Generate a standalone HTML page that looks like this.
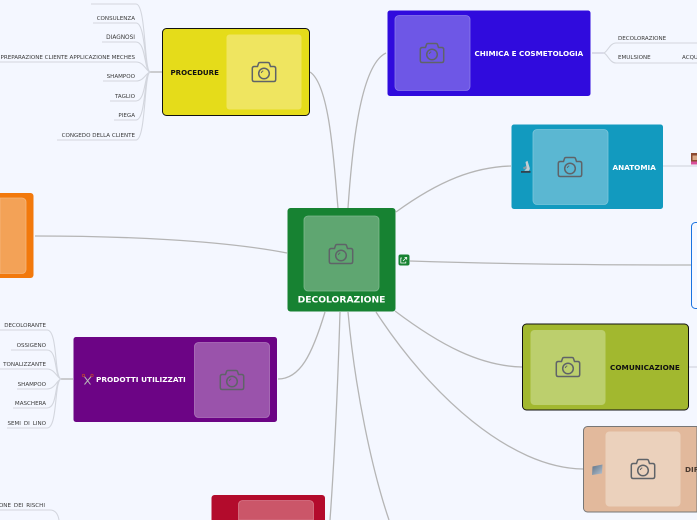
<!DOCTYPE html>
<html><head><meta charset="utf-8"><style>
html,body{margin:0;padding:0;width:697px;height:520px;overflow:hidden;background:#f4f7ff}
svg{display:block;overflow:hidden}
text{font-family:"DejaVu Sans",sans-serif}
.t{font-size:5.56px;fill:#3a3a3a;text-anchor:end}
.b{font-weight:bold}
.c{fill:none;stroke:#b5b5b5;stroke-width:1.3}
.l{fill:none;stroke:#d3d6de;stroke-width:1.1}
</style></head><body>
<svg width="697" height="520" viewBox="0 0 697 520" xmlns="http://www.w3.org/2000/svg">
<defs>
<g id="cam" fill="none" stroke="#5f6368" stroke-width="1.5">
<path d="M-9.700 -5.500H-6.500L-5.500 -8.500Q-5.200 -9.500 -4 -9.500H4Q5.200 -9.500 5.500 -8.500L6.500 -5.500H9.700Q11.700 -5.500 11.700 -3.500V7.500Q11.700 9.500 9.700 9.500H-9.700Q-11.700 9.500 -11.700 7.500V-3.500Q-11.700 -5.500 -9.700 -5.500Z"/>
<circle cx="0" cy="1.500" r="5.300"/>
<path d="M-2.700 1a3 3 0 0 1 2-2.200" stroke-width="1"/>
</g>
<linearGradient id="fold" x1="0" y1="0" x2="1" y2="1"><stop offset="0" stop-color="#5d7186"/><stop offset="1" stop-color="#b4c2d0"/></linearGradient>
</defs>

<!-- main connectors -->
<path class="c" d="M348 208C352 150 360 65 386 53"/>
<path class="c" d="M338 208C334 165 330 85 310 72"/>
<path class="c" d="M396 212C440 180 475 167 511 166"/>
<path class="c" d="M35 236C120 236 220 240 287 253"/>
<path class="c" d="M410 261C500 264 600 265 691 265"/>
<path class="c" d="M395 311C440 345 480 366 522 367"/>
<path class="c" d="M376 312C430 395 510 468 583 469"/>
<path class="c" d="M325 312C312 355 300 379 278 379"/>
<path class="c" d="M340 312C338 380 335 450 330 520"/>
<path class="c" d="M348 312C355 390 372 470 389 520"/>
<path class="c" d="M663 166H697" style="stroke:#d5d8e0"/>
<path class="c" d="M689 367H697" style="stroke:#d5d8e0"/>

<!-- PROCEDURE leaves -->
<path class="c" d="M162 72H150"/>
<g class="l">
<path d="M91 4H136C146 4 144 70 150 72"/>
<path d="M93 23H136C146 23 144 70 150 72"/>
<path d="M102 42H136C146 42 144 70 150 72"/>
<path d="M0 62H136C144 62 146 71 150 72"/>
<path d="M103 81H136C144 81 146 73 150 72"/>
<path d="M110 101H136C146 101 144 74 150 72"/>
<path d="M114 120H136C146 120 144 74 150 72"/>
<path d="M57 140H136C146 140 144 74 150 72"/>
</g>
<g class="t">
<text x="135" y="20">CONSULENZA</text>
<text x="135" y="39" style="font-size:5.8px">DIAGNOSI</text>
<text x="135" y="59">PREPARAZIONE CLIENTE APPLICAZIONE MECHES</text>
<text x="135" y="78">SHAMPOO</text>
<text x="135" y="98">TAGLIO</text>
<text x="135" y="117">PIEGA</text>
<text x="135" y="137">CONGEDO DELLA CLIENTE</text>
</g>

<!-- PRODOTTI leaves -->
<path class="c" d="M73 379H61"/>
<g class="l">
<path d="M0 330H47C58 330 54 377 61 379"/>
<path d="M11 350H47C58 350 54 377 61 379"/>
<path d="M0 369H47C55 369 57 378 61 379"/>
<path d="M17 389H47C55 389 57 380 61 379"/>
<path d="M13 408H47C58 408 54 381 61 379"/>
<path d="M7 428H47C58 428 54 381 61 379"/>
</g>
<g class="t">
<text x="46" y="327">DECOLORANTE</text>
<text x="46" y="347">OSSIGENO</text>
<text x="46" y="366">TONALIZZANTE</text>
<text x="46" y="386">SHAMPOO</text>
<text x="46" y="405">MASCHERA</text>
<text x="46" y="425" style="word-spacing:1.200px">SEMI DI LINO</text>
</g>

<!-- bottom-left leaf -->
<text class="t" x="45" y="507" style="word-spacing:1.200px">ONE DEI RISCHI</text>
<path class="l" d="M0 510H50C55 510 58 514 59 520"/>

<!-- CHIMICA leaves -->
<path class="c" d="M592 53H604" style="stroke:#ccd"/>
<path class="l" d="M697 43H616C610 43 608 51 604 53C608 55 610 63 616 63H697"/>
<text x="618" y="40" font-size="5.560" fill="#3a3a3a">DECOLORAZIONE</text>
<text x="618" y="59" font-size="5.560" fill="#3a3a3a">EMULSIONE</text>
<text x="682" y="59" font-size="5.560" fill="#3a3a3a">ACQUA</text>

<!-- CENTER -->
<rect x="287.500" y="208" width="108" height="103.500" rx="3" fill="#178232"/>
<rect x="304" y="216" width="75" height="75" rx="4" fill="#5fa671" stroke="#7fb98e" stroke-width=".8"/>
<use href="#cam" x="341" y="254"/>
<text x="341.500" y="302.500" font-size="9.200" class="b" fill="#fff" text-anchor="middle">DECOLORAZIONE</text>
<rect x="398.500" y="254.500" width="11" height="11" rx="2" fill="#178232"/>
<path d="M402 258h-1.200v5h5v-1.500M403 261l3.500-3.500M404.500 257.500h2.200v2.200" fill="none" stroke="#fff" stroke-width=".8"/>

<!-- PROCEDURE -->
<rect x="162.500" y="28.500" width="147" height="87" rx="4" fill="#e5dc1a" stroke="#111" stroke-width="1"/>
<rect x="226.500" y="34.500" width="75" height="75" rx="3" fill="#efe560"/>
<use href="#cam" x="264" y="72"/>
<text x="170.500" y="75" font-size="7.050" class="b" fill="#111">PROCEDURE</text>

<!-- CHIMICA -->
<rect x="387.500" y="10.500" width="203" height="85.500" rx="2.500" fill="#300bdd"/>
<rect x="395" y="15.500" width="75" height="75" rx="4" fill="#6e57e6" stroke="#8c7bea" stroke-width=".8"/>
<use href="#cam" x="432" y="53"/>
<text x="474.500" y="56" font-size="7.200" class="b" fill="#fff">CHIMICA E COSMETOLOGIA</text>

<!-- ANATOMIA -->
<rect x="511.500" y="124.500" width="151.500" height="84.500" rx="2.500" fill="#129abf"/>
<rect x="533" y="129.500" width="75" height="75" rx="4" fill="#5bb7d2" stroke="#7cc6db" stroke-width=".8"/>
<use href="#cam" x="570" y="167"/>
<text x="612.500" y="170" font-size="7.250" class="b" fill="#fff">ANATOMIA</text>
<path d="M525.500 162l2-1.300 2.300 7.500a3 3 0 0 1-1 2.500h-4.500l2.400-2.500z" fill="#c6ced3"/>
<path d="M523 167.500l3-1.500 .8 2-3 1.500z" fill="#8c9aa3"/>
<rect x="521" y="171" width="9.500" height="1.800" fill="#33424c"/>

<!-- icon right of anatomia -->
<rect x="691" y="153" width="6" height="11.500" fill="#8c4a32"/>
<rect x="692.500" y="155.500" width="4.500" height="4.500" fill="#d9a988"/>
<rect x="691" y="161.500" width="6" height="3" fill="#d84f9a"/>

<!-- ORANGE -->
<path d="M0 193H30.500a3 3 0 0 1 3 3V275a3 3 0 0 1-3 3H0Z" fill="#f2790c"/>
<path d="M0 198H22a4 4 0 0 1 4 4V269.500a4 4 0 0 1-4 4H0Z" fill="#f3a257" stroke="#f4b67c" stroke-width=".8"/>

<!-- BLUE outlined -->
<path d="M697 222.500H695.500a4 4 0 0 0-4 4V304.500a4 4 0 0 0 4 4H697" fill="#f6f8ff" stroke="#1a73e0" stroke-width="1"/>

<!-- COMUNICAZIONE -->
<rect x="522.500" y="324" width="166" height="86" rx="4" fill="#a2b82f" stroke="#111" stroke-width="1"/>
<rect x="530.500" y="330" width="75" height="75" rx="4" fill="#bccf6d"/>
<use href="#cam" x="568" y="367"/>
<text x="610" y="370" font-size="7.300" class="b" fill="#111">COMUNICAZIONE</text>

<!-- DIR -->
<path d="M697 426.500H587.500a4 4 0 0 0-4 4V508a4 4 0 0 0 4 4H697Z" fill="#e2b99c" stroke="#777" stroke-width="1"/>
<rect x="605.500" y="431.500" width="75" height="75" rx="4" fill="#ebd1bc"/>
<use href="#cam" x="643" y="469"/>
<text x="685" y="472" font-size="7.250" class="b" fill="#4a3a30">DIR</text>
<path d="M592.500 466.500l10-2-.5 9-10 1.500z" fill="url(#fold)"/>

<!-- PRODOTTI -->
<rect x="73.500" y="337" width="203.500" height="85" rx="2.500" fill="#6c0485"/>
<rect x="194.500" y="342.500" width="75" height="75" rx="4" fill="#9a53ab" stroke="#ae78bb" stroke-width=".8"/>
<use href="#cam" x="232" y="380"/>
<text x="96" y="382" font-size="7.350" class="b" fill="#fff">PRODOTTI UTILIZZATI</text>
<path d="M84 376l6.500 8.500M91.500 376l-7 8.500" stroke="#b9b9b9" stroke-width="1" fill="none"/>
<circle cx="83.500" cy="375.500" r="1.200" fill="none" stroke="#b53a3a" stroke-width=".8"/>
<circle cx="92" cy="375.500" r="1.200" fill="none" stroke="#b53a3a" stroke-width=".8"/>

<!-- RED -->
<path d="M211.500 520V498a3 3 0 0 1 3-3H322a3 3 0 0 1 3 3V520Z" fill="#b30b2c"/>
<path d="M238.500 520V504.500a4 4 0 0 1 4-4H309.500a4 4 0 0 1 4 4V520Z" fill="#cb5669" stroke="#d67a89" stroke-width=".8"/>
</svg>
</body></html>
